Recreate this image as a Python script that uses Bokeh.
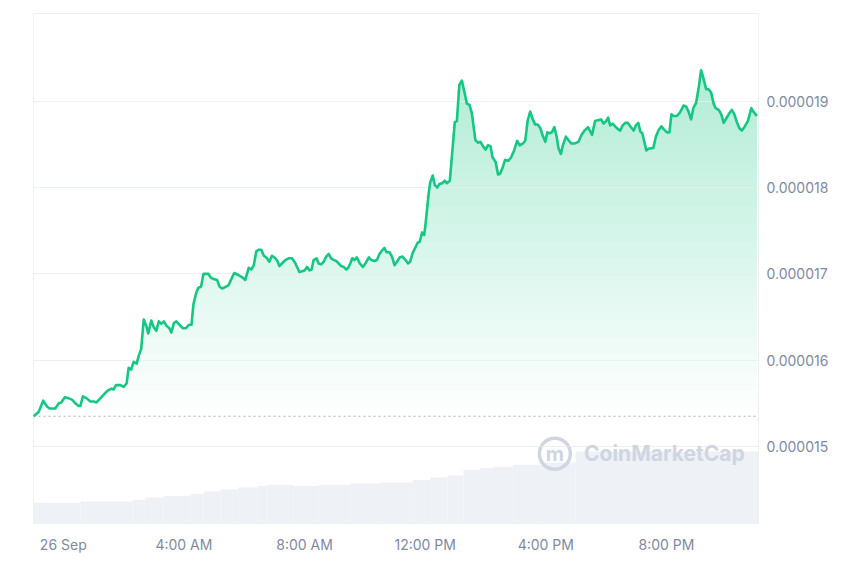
import numpy as np
from bokeh.plotting import figure
from bokeh.models import Range1d, FixedTicker, PrintfTickFormatter, Span, Label
from bokeh.embed import file_html
from bokeh.resources import INLINE

# ---- data (minutes from 00:00 26 Sep; price in USD) ----
time_min = [-59, -49, -40, -32, -27, -16, -9, -4, 3, 10, 18, 24, 30, 34, 39, 46, 54, 61, 66, 74,
            82, 89, 96, 100, 105, 114, 120, 126, 130, 135, 140, 146, 150, 155, 160, 165, 169, 175, 180, 185,
            190, 195, 200, 205, 211, 215, 220, 225, 231, 238, 244, 250, 255, 259, 265, 269, 274, 279, 289, 293,
            299, 306, 311, 316, 323, 329, 336, 340, 347, 356, 362, 369, 374, 379, 384, 389, 394, 399, 404, 410,
            415, 420, 425, 430, 435, 442, 448, 455, 462, 465, 470, 475, 480, 485, 490, 494, 498, 504, 508, 513,
            518, 523, 528, 533, 538, 543, 548, 553, 558, 563, 567, 571, 575, 579, 584, 590, 596, 601, 608, 613,
            619, 624, 629, 634, 639, 643, 649, 654, 659, 664, 669, 675, 681, 686, 690, 695, 700, 705, 709, 714,
            718, 720, 727, 730, 735, 739, 744, 748, 754, 759, 763, 769, 773, 779, 783, 788, 793, 798, 803, 808,
            813, 816, 820, 825, 830, 835, 840, 845, 850, 854, 860, 865, 869, 874, 879, 885, 891, 897, 903, 908,
            914, 919, 924, 929, 934, 939, 944, 949, 954, 959, 963, 967, 972, 977, 982, 985, 990, 994, 1000, 1005,
            1011, 1017, 1025, 1031, 1037, 1044, 1052, 1058, 1064, 1070, 1075, 1080, 1084, 1088, 1093, 1098, 1103, 1108, 1113, 1118,
            1123, 1128, 1135, 1139, 1144, 1148, 1152, 1156, 1160, 1164, 1174, 1179, 1184, 1190, 1194, 1201, 1206, 1210, 1214, 1221,
            1227, 1234, 1239, 1244, 1249, 1254, 1259, 1264, 1269, 1274, 1279, 1284, 1289, 1294, 1298, 1304, 1309, 1314, 1319, 1325,
            1330, 1335, 1340, 1345, 1350, 1355, 1362, 1369, 1373, 1380]

price = [15.35e-6, 15.40e-6, 15.53e-6, 15.46e-6, 15.44e-6, 15.44e-6, 15.50e-6, 15.51e-6, 15.57e-6, 15.56e-6,
         15.54e-6, 15.50e-6, 15.47e-6, 15.47e-6, 15.58e-6, 15.56e-6, 15.52e-6, 15.52e-6, 15.51e-6, 15.56e-6,
         15.61e-6, 15.65e-6, 15.67e-6, 15.66e-6, 15.71e-6, 15.71e-6, 15.69e-6, 15.73e-6, 15.91e-6, 15.89e-6,
         15.98e-6, 15.96e-6, 16.05e-6, 16.13e-6, 16.47e-6, 16.40e-6, 16.31e-6, 16.46e-6, 16.38e-6, 16.34e-6,
         16.45e-6, 16.42e-6, 16.45e-6, 16.40e-6, 16.37e-6, 16.32e-6, 16.43e-6, 16.45e-6, 16.41e-6, 16.37e-6,
         16.37e-6, 16.41e-6, 16.41e-6, 16.65e-6, 16.79e-6, 16.84e-6, 16.85e-6, 17.00e-6, 17.00e-6, 16.96e-6,
         16.94e-6, 16.93e-6, 16.85e-6, 16.83e-6, 16.85e-6, 16.87e-6, 16.96e-6, 17.01e-6, 16.99e-6, 16.96e-6,
         16.93e-6, 17.07e-6, 17.05e-6, 17.10e-6, 17.26e-6, 17.28e-6, 17.28e-6, 17.21e-6, 17.19e-6, 17.14e-6,
         17.21e-6, 17.19e-6, 17.16e-6, 17.09e-6, 17.12e-6, 17.16e-6, 17.18e-6, 17.18e-6, 17.12e-6, 17.08e-6,
         17.02e-6, 17.03e-6, 17.04e-6, 17.08e-6, 17.04e-6, 17.05e-6, 17.16e-6, 17.18e-6, 17.12e-6, 17.11e-6,
         17.14e-6, 17.20e-6, 17.23e-6, 17.18e-6, 17.16e-6, 17.15e-6, 17.12e-6, 17.09e-6, 17.08e-6, 17.05e-6,
         17.07e-6, 17.12e-6, 17.18e-6, 17.16e-6, 17.19e-6, 17.12e-6, 17.08e-6, 17.12e-6, 17.19e-6, 17.16e-6,
         17.15e-6, 17.16e-6, 17.23e-6, 17.27e-6, 17.30e-6, 17.25e-6, 17.25e-6, 17.20e-6, 17.10e-6, 17.14e-6,
         17.19e-6, 17.20e-6, 17.16e-6, 17.12e-6, 17.14e-6, 17.24e-6, 17.30e-6, 17.36e-6, 17.37e-6, 17.48e-6,
         17.45e-6, 17.54e-6, 17.93e-6, 18.06e-6, 18.14e-6, 18.03e-6, 18.00e-6, 18.04e-6, 18.05e-6, 18.08e-6,
         18.05e-6, 18.08e-6, 18.35e-6, 18.76e-6, 18.77e-6, 19.19e-6, 19.24e-6, 19.11e-6, 18.97e-6, 18.96e-6,
         18.86e-6, 18.72e-6, 18.55e-6, 18.52e-6, 18.53e-6, 18.48e-6, 18.44e-6, 18.49e-6, 18.48e-6, 18.35e-6,
         18.30e-6, 18.15e-6, 18.16e-6, 18.23e-6, 18.32e-6, 18.31e-6, 18.35e-6, 18.43e-6, 18.54e-6, 18.49e-6,
         18.51e-6, 18.54e-6, 18.78e-6, 18.88e-6, 18.79e-6, 18.73e-6, 18.73e-6, 18.69e-6, 18.60e-6, 18.53e-6,
         18.64e-6, 18.63e-6, 18.64e-6, 18.70e-6, 18.58e-6, 18.46e-6, 18.39e-6, 18.49e-6, 18.59e-6, 18.55e-6,
         18.51e-6, 18.51e-6, 18.53e-6, 18.61e-6, 18.66e-6, 18.70e-6, 18.61e-6, 18.77e-6, 18.78e-6, 18.79e-6,
         18.74e-6, 18.77e-6, 18.81e-6, 18.72e-6, 18.74e-6, 18.71e-6, 18.68e-6, 18.66e-6, 18.72e-6, 18.75e-6,
         18.75e-6, 18.71e-6, 18.66e-6, 18.72e-6, 18.75e-6, 18.65e-6, 18.63e-6, 18.53e-6, 18.43e-6, 18.45e-6,
         18.46e-6, 18.59e-6, 18.66e-6, 18.71e-6, 18.68e-6, 18.64e-6, 18.64e-6, 18.85e-6, 18.83e-6, 18.83e-6,
         18.87e-6, 18.95e-6, 18.94e-6, 18.88e-6, 18.79e-6, 18.93e-6, 18.98e-6, 19.15e-6, 19.36e-6, 19.26e-6,
         19.14e-6, 19.14e-6, 19.10e-6, 18.97e-6, 18.92e-6, 18.90e-6, 18.85e-6, 18.75e-6, 18.80e-6, 18.86e-6,
         18.90e-6, 18.85e-6, 18.76e-6, 18.69e-6, 18.66e-6, 18.70e-6, 18.77e-6, 18.92e-6, 18.88e-6, 18.83e-6]

open_price = 15.35e-6

# rolling 24h volume (steps), millions USD
vol_start = [-59, 34, 138, 163, 199, 253, 279, 313, 348, 386, 406, 458, 508, 571, 631, 696, 730, 764, 796, 829, 855, 895, 949, 1019]
vol_end = [34, 138, 163, 199, 253, 279, 313, 348, 386, 406, 458, 508, 571, 631, 696, 730, 764, 796, 829, 855, 895, 949, 1019, 1383]
volume = [2.07, 2.20, 2.37, 2.60, 2.77, 2.94, 3.20, 3.40, 3.60, 3.77, 3.87, 3.74, 3.87, 4.00, 4.10, 4.34, 4.60, 4.80,
          5.34, 5.54, 5.67, 5.87, 6.10, 7.20]

x_ticks = [0, 240, 480, 720, 960, 1200]
x_tick_labels = ["26 Sep", "4:00 AM", "8:00 AM", "12:00 PM", "4:00 PM", "8:00 PM"]
y_ticks = [15e-6, 16e-6, 17e-6, 18e-6, 19e-6]

GREEN = "#16c784"
GREEN_RGB = (22, 199, 132)
LABEL = "#808a9d"
FONT = "Inter"

p = figure(width=842, height=559, output_backend="svg", toolbar_location=None,
           x_range=Range1d(-59.3, 1383.2), y_range=Range1d(14.107e-6, 20.017e-6),
           y_axis_location="right",
           min_border_left=33, min_border_top=13, min_border_right=84, min_border_bottom=36)
p.extra_y_ranges = {"vol": Range1d(0, 50.94)}

p.background_fill_color = "white"
p.border_fill_color = "white"
p.outline_line_color = "#eceef2"
p.outline_line_width = 1

# volume
p.quad(left=vol_start, right=vol_end, bottom=0, top=volume, y_range_name="vol",
       fill_color="#eef1f5", line_color=None)

# vertical gradient under the price line: overlapping opaque layers,
# each a pre-blended tint of the line colour over white
t_arr = np.array(time_min, dtype=float)
p_arr = np.array(price)
n_layers = 40
grad_top = 19.40e-6
levels = np.linspace(open_price, grad_top, n_layers, endpoint=False)
step = (grad_top - open_price) / n_layers
for lv in levels:
    a = min(0.34, 0.34 * ((lv + step / 2) - open_price) / (grad_top - open_price))
    rgb = tuple(int(round(255 - a * (255 - c))) for c in GREEN_RGB)
    col = "#%02x%02x%02x" % rgb
    p.varea(x=t_arr, y1=np.full_like(p_arr, lv), y2=np.maximum(p_arr, lv),
            fill_color=col, fill_alpha=1.0)

# open price dotted line
p.add_layout(Span(location=open_price, dimension="width", line_color="#a7afc0",
                  line_width=1.2, line_dash="2 3"))

# price line (drawn above grid)
line_r = p.line(time_min, price, line_color=GREEN, line_width=2.6, line_join="round")
line_r.level = "overlay"

# watermark
p.scatter(x=[978], y=[14.915e-6], size=31, marker="circle", fill_color=None,
          line_color="#cfd6e2", line_width=3.5)
p.add_layout(Label(x=978, y=14.915e-6, text="m", text_align="center", text_baseline="middle",
                   text_font=FONT, text_font_style="bold", text_font_size="20px", text_color="#cfd6e2"))
p.add_layout(Label(x=1036, y=14.915e-6, text="CoinMarketCap", text_align="left", text_baseline="middle",
                   text_font=FONT, text_font_style="bold", text_font_size="21px", text_color="#cfd6e2"))

# axes
p.xaxis.ticker = FixedTicker(ticks=x_ticks)
p.xaxis.major_label_overrides = {t: l for t, l in zip(x_ticks, x_tick_labels)}
p.yaxis.ticker = FixedTicker(ticks=y_ticks)
p.yaxis.formatter = PrintfTickFormatter(format="%.6f")
for ax in (p.xaxis, p.yaxis):
    ax.axis_line_color = None
    ax.major_tick_line_color = None
    ax.minor_tick_line_color = None
    ax.major_tick_out = 0
    ax.major_tick_in = 0
    ax.major_label_text_font = FONT
    ax.major_label_text_font_size = "14px"
    ax.major_label_text_color = LABEL
p.xaxis.major_label_standoff = 12
p.yaxis.major_label_standoff = 8

p.xgrid.visible = False
p.ygrid.grid_line_color = "#e9ecef"
p.ygrid.grid_line_alpha = 0.8
p.ygrid.grid_line_width = 1
p.ygrid.level = "annotation"

open("out.html", "w").write(file_html(p, INLINE))
